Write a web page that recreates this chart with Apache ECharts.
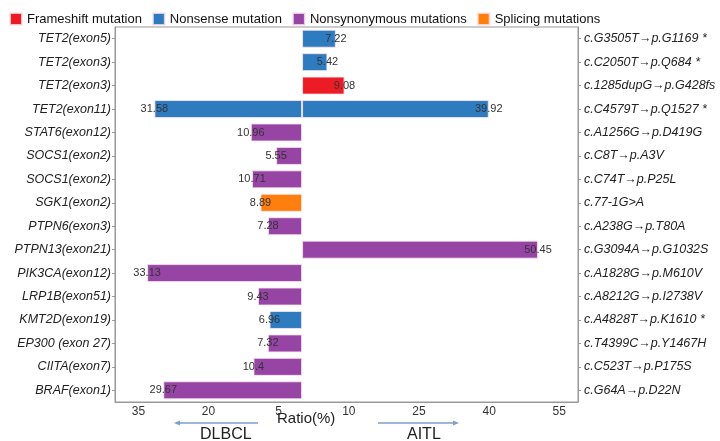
<!DOCTYPE html>
<html>
<head>
<meta charset="utf-8">
<script src="https://cdn.jsdelivr.net/npm/echarts@6/dist/echarts.min.js"></script>
<style>
  html, body { margin: 0; padding: 0; background: #fff; }
  #chart { width: 720px; height: 441px; }
</style>
</head>
<body>
<div id="chart"></div>
<script>
// mutation types (legend order) and their colours
const mutationTypes = ['Frameshift mutation', 'Nonsense mutation', 'Nonsynonymous mutations', 'Splicing mutations'];
const typeColors = ['#ec1c24', '#2f7bbf', '#9645a5', '#ff7f0e'];

// rows, top to bottom
const genes = ['TET2(exon5)', 'TET2(exon3)', 'TET2(exon3)', 'TET2(exon11)', 'STAT6(exon12)', 'SOCS1(exon2)',
  'SOCS1(exon2)', 'SGK1(exon2)', 'PTPN6(exon3)', 'PTPN13(exon21)', 'PIK3CA(exon12)', 'LRP1B(exon51)',
  'KMT2D(exon19)', 'EP300 (exon 27)', 'CIITA(exon7)', 'BRAF(exon1)'];
const changes = ['c.G3505T\u2192p.G1169 *', 'c.C2050T\u2192p.Q684 *', 'c.1285dupG\u2192p.G428fs', 'c.C4579T\u2192p.Q1527 *',
  'c.A1256G\u2192p.D419G', 'c.C8T\u2192p.A3V', 'c.C74T\u2192p.P25L', 'c.77-1G>A', 'c.A238G\u2192p.T80A',
  'c.G3094A\u2192p.G1032S', 'c.A1828G\u2192p.M610V', 'c.A8212G\u2192p.I2738V', 'c.A4828T\u2192p.K1610 *',
  'c.T4399C\u2192p.Y1467H', 'c.C523T\u2192p.P175S', 'c.G64A\u2192p.D22N'];
// index into mutationTypes
const rowType = [1, 1, 0, 1, 2, 2, 2, 3, 2, 2, 2, 2, 1, 2, 2, 2];
// ratio (%) in each lymphoma
const dlbcl = [null, null, null, 31.58, 10.96, 5.55, 10.71, 8.89, 7.28, null, 33.13, 9.43, 6.96, 7.32, 10.4, 29.67];
const aitl = [7.22, 5.42, 9.08, 39.92, null, null, null, null, null, 50.45, null, null, null, null, null, null];
const xTicks = [-35, -20, -5, 10, 25, 40, 55];

const FONT = 'Liberation Sans';

const makeSeries = (t, side) => {
  const vals = side === 'DLBCL' ? dlbcl : aitl;
  const sign = side === 'DLBCL' ? -1 : 1;
  return {
    name: mutationTypes[t],
    type: 'bar',
    stack: 'all',
    barWidth: 18,
    itemStyle: { color: typeColors[t], borderColor: 'rgba(255,230,240,0.8)', borderWidth: 1 },
    label: {
      show: true,
      position: side === 'DLBCL' ? 'insideLeft' : 'insideRight',
      distance: 0,
      align: 'center',
      color: '#333',
      fontSize: 11,
      fontFamily: FONT,
      formatter: p => Math.abs(p.value)
    },
    data: genes.map((g, i) => (rowType[i] === t && vals[i] != null) ? sign * vals[i] : '-')
  };
};

const series = [];
mutationTypes.forEach((m, t) => {
  series.push(makeSeries(t, 'DLBCL'));
  series.push(makeSeries(t, 'AITL'));
});

const arrowColor = '#7f9fc7';

const chart = echarts.init(document.getElementById('chart'));
chart.setOption({
  animation: false,
  textStyle: { fontFamily: FONT },
  legend: {
    data: mutationTypes,
    left: 4,
    top: 7,
    icon: 'rect',
    itemWidth: 12,
    itemHeight: 12,
    itemGap: 10,
    textStyle: { fontSize: 13, color: '#111', fontFamily: FONT }
  },
  grid: {
    left: 115, right: 142, top: 27, bottom: 39,
    outerBoundsMode: 'none',
    show: true, borderColor: '#999', borderWidth: 1
  },
  xAxis: {
    type: 'value',
    min: -40,
    max: 59,
    axisLine: { show: true, onZero: false, lineStyle: { color: '#999' } },
    axisTick: { show: false },
    splitLine: { show: false },
    axisLabel: {
      customValues: xTicks,
      formatter: v => Math.abs(v),
      color: '#333',
      fontSize: 12,
      margin: 4,
      fontFamily: FONT
    }
  },
  yAxis: [
    {
      type: 'category',
      data: genes,
      inverse: true,
      axisLine: { show: true, onZero: false, lineStyle: { color: '#999' } },
      axisTick: { show: true, alignWithLabel: true, length: 3, lineStyle: { color: '#999' } },
      axisLabel: { color: '#222', fontSize: 12.5, fontStyle: 'italic', margin: 4, fontFamily: FONT }
    },
    {
      type: 'category',
      data: changes,
      inverse: true,
      position: 'right',
      axisLine: { show: true, onZero: false, lineStyle: { color: '#999' } },
      axisTick: { show: true, alignWithLabel: true, length: 3, lineStyle: { color: '#999' } },
      axisLabel: { color: '#222', fontSize: 12.5, fontStyle: 'italic', margin: 6, fontFamily: FONT }
    }
  ],
  graphic: [
    { type: 'text', left: 277, top: 411, style: { text: 'Ratio(%)', fontSize: 15, fill: '#222', fontFamily: FONT } },
    { type: 'text', left: 200, top: 427, style: { text: 'DLBCL', fontSize: 16, fill: '#222', fontFamily: FONT } },
    { type: 'text', left: 407, top: 427, style: { text: 'AITL', fontSize: 16, fill: '#222', fontFamily: FONT } },
    { type: 'line', shape: { x1: 258, y1: 423, x2: 178, y2: 423 }, style: { stroke: arrowColor, lineWidth: 1.5 } },
    { type: 'polygon', shape: { points: [[174, 423], [180, 420.5], [180, 425.5]] }, style: { fill: arrowColor } },
    { type: 'line', shape: { x1: 378, y1: 423, x2: 455, y2: 423 }, style: { stroke: arrowColor, lineWidth: 1.5 } },
    { type: 'polygon', shape: { points: [[459, 423], [453, 420.5], [453, 425.5]] }, style: { fill: arrowColor } }
  ],
  series: series
});
</script>
</body>
</html>
